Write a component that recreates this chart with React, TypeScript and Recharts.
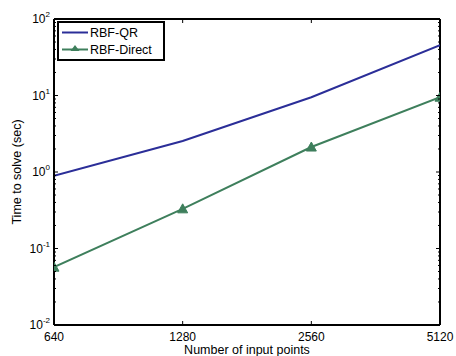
import React from "react";
import { LineChart, Line, XAxis, YAxis, Legend, ReferenceLine } from "recharts";

const points = [640, 1280, 2560, 5120];
const rbfQR = [0.89, 2.54, 9.5, 45.5];
const rbfDirect = [0.057, 0.33, 2.12, 9.5];
const xTicks = [640, 1280, 2560, 5120];
const yMajor = [0.01, 0.1, 1, 10, 100];
const yMinor = [2, 3, 4, 5, 6, 7, 8, 9];

const data = points.map((p, i) => ({ n: p, qr: rbfQR[i], direct: rbfDirect[i] }));
const yTicks: number[] = [];
yMajor.forEach((m, i) => {
  yTicks.push(m);
  if (i < yMajor.length - 1) yMinor.forEach((k) => yTicks.push(+(m * k).toPrecision(3)));
});

const FONT = "'Liberation Sans', Arial, sans-serif";
const BLUE = "#2b2e98";
const GREEN = "#3e7f5c";

const isMajor = (v: number) => yMajor.some((m) => Math.abs(m - v) / m < 1e-6);

const YTick = (props: any) => {
  const { x, y, payload } = props;
  const v = payload.value;
  const major = isMajor(v);
  const exp = Math.round(Math.log10(v));
  return (
    <g>
      <line x1={x} x2={x + (major ? 4 : 2)} y1={y} y2={y} stroke="#000" strokeWidth={1} />
      {major && (
        <text x={x - 4} y={y + 4} textAnchor="end" fontFamily={FONT} fontSize={12} fill="#000">
          <tspan>10</tspan>
          <tspan dy={-6} fontSize={8}>{exp}</tspan>
        </text>
      )}
    </g>
  );
};

const YTickRight = (props: any) => {
  const { x, y, payload } = props;
  const major = isMajor(payload.value);
  return <line x1={x} x2={x - (major ? 4 : 2)} y1={y} y2={y} stroke="#000" strokeWidth={1} />;
};

const XTick = (props: any) => {
  const { x, y, payload } = props;
  return (
    <g>
      <line x1={x} x2={x} y1={y} y2={y - 4} stroke="#000" strokeWidth={1} />
      <text x={x} y={y + 16} textAnchor="middle" fontFamily={FONT} fontSize={12} fill="#000">
        {payload.value}
      </text>
    </g>
  );
};

const XTickTop = (props: any) => {
  const { x, y } = props;
  return <line x1={x} x2={x} y1={y} y2={y + 4} stroke="#000" strokeWidth={1} />;
};

const Triangle = (props: any) => {
  const { cx, cy } = props;
  if (cx == null || cy == null) return null;
  const s = 5;
  return <path d={`M${cx},${cy - s} L${cx + s},${cy + s * 0.8} L${cx - s},${cy + s * 0.8} Z`} fill={GREEN} stroke={GREEN} />;
};

const LegendBox = () => (
  <svg width={108} height={40} style={{ display: "block" }}>
    <rect x={1} y={1} width={106} height={38} fill="#fff" stroke="#000" strokeWidth={2} />
    <line x1={5} x2={31} y1={11.5} y2={11.5} stroke={BLUE} strokeWidth={2} />
    <text x={33} y={16} fontFamily={FONT} fontSize={12.5} fill="#000">RBF-QR</text>
    <line x1={5} x2={31} y1={28.5} y2={28.5} stroke={GREEN} strokeWidth={2} />
    <path d="M18,24 L22.5,30 L13.5,30 Z" fill={GREEN} />
    <text x={33} y={33} fontFamily={FONT} fontSize={12.5} fill="#000">RBF-Direct</text>
  </svg>
);

export default function App() {
  return (
    <div style={{ position: "absolute", left: 0, top: 0, width: 456, height: 356, background: "#fff" }}>
      <LineChart width={456} height={356} data={data} margin={{ top: 18, right: 15, left: 0, bottom: 0 }}>
        <XAxis
          dataKey="n"
          type="number"
          scale="log"
          domain={[640, 5120]}
          ticks={xTicks}
          allowDataOverflow
          height={31}
          tickSize={0}
          tickMargin={0}
          axisLine={{ stroke: "#000", strokeWidth: 2 }}
          tickLine={false}
          tick={<XTick />}
          interval={0}
          label={{
            value: "Number of input points",
            position: "insideBottom",
            offset: 2,
            style: { fontFamily: FONT, fontSize: 12.5, fill: "#000" },
          }}
        />
        <XAxis
          xAxisId="top"
          dataKey="n"
          type="number"
          scale="log"
          domain={[640, 5120]}
          ticks={xTicks}
          allowDataOverflow
          orientation="top"
          height={1}
          tickSize={0}
          tickMargin={0}
          axisLine={false}
          tickLine={false}
          tick={<XTickTop />}
          interval={0}
        />
        <YAxis
          type="number"
          scale="log"
          domain={[0.01, 100]}
          ticks={yTicks}
          allowDataOverflow
          width={54}
          interval={0}
          tickSize={0}
          tickMargin={0}
          axisLine={{ stroke: "#000", strokeWidth: 2 }}
          tickLine={false}
          tick={<YTick />}
          label={{
            value: "Time to solve (sec)",
            angle: -90,
            position: "insideLeft",
            offset: 17,
            style: { textAnchor: "middle", fontFamily: FONT, fontSize: 12.5, fill: "#000" },
          }}
        />
        <YAxis
          yAxisId="right"
          orientation="right"
          type="number"
          scale="log"
          domain={[0.01, 100]}
          ticks={yTicks}
          allowDataOverflow
          width={1}
          interval={0}
          tickSize={0}
          tickMargin={0}
          axisLine={false}
          tickLine={false}
          tick={<YTickRight />}
        />
        <ReferenceLine y={100} stroke="#000" strokeWidth={2} ifOverflow="extendDomain" />
        <ReferenceLine x={5120} stroke="#000" strokeWidth={2} ifOverflow="extendDomain" />
        <Legend
          verticalAlign="middle"
          align="center"
          layout="horizontal"
          content={<LegendBox />}
          wrapperStyle={{ position: "absolute", left: 57, top: 21, width: 108, height: 40 }}
        />
        <Line dataKey="qr" stroke={BLUE} strokeWidth={2} dot={false} isAnimationActive={false} />
        <Line dataKey="direct" stroke={GREEN} strokeWidth={2} dot={<Triangle />} isAnimationActive={false} />
      </LineChart>
    </div>
  );
}
